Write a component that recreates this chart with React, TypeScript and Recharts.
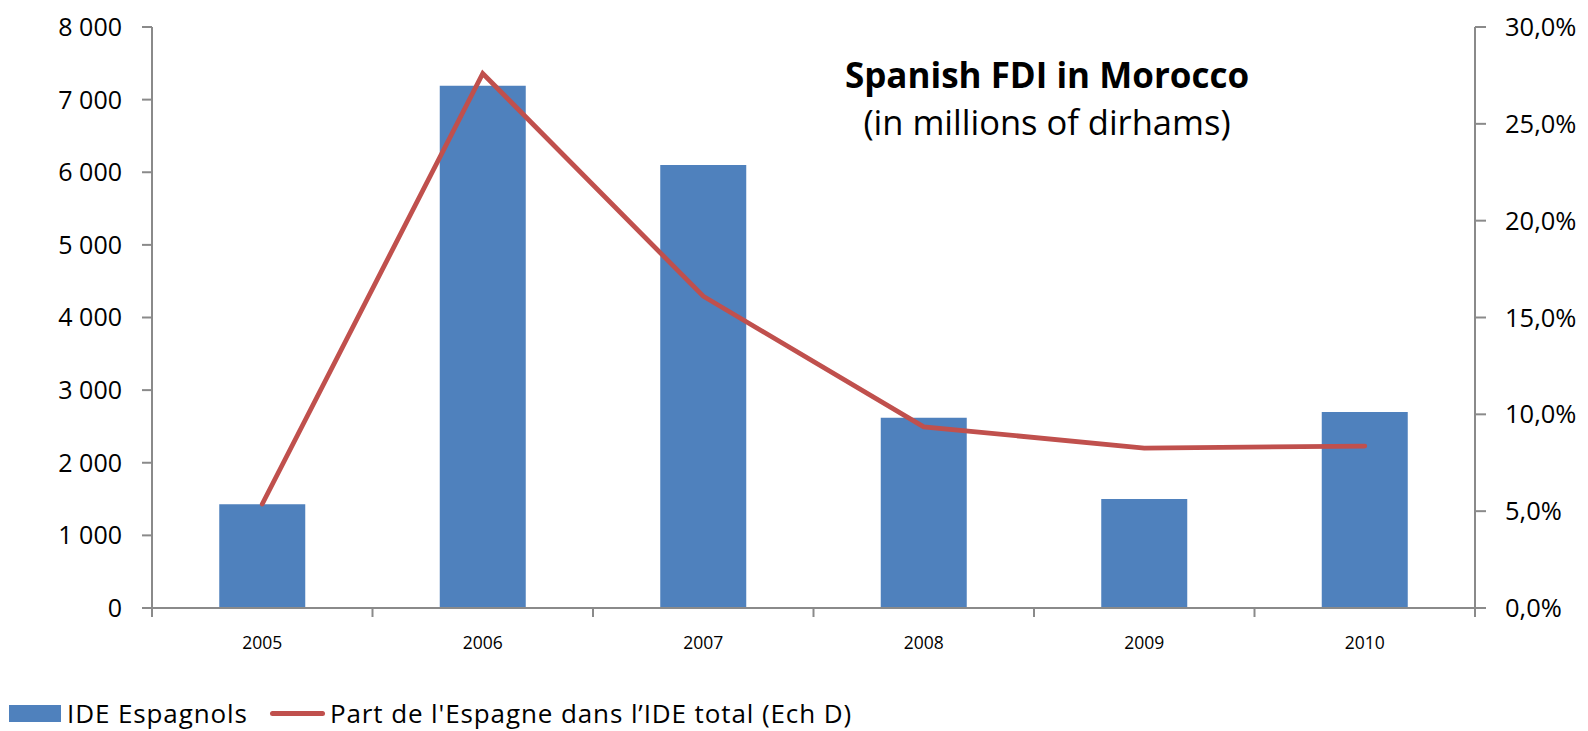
import { ComposedChart, Bar, Line, XAxis, YAxis } from "recharts";

// IDE espagnols au Maroc (millions de dirhams) et part dans l'IDE total
const years = ["2005", "2006", "2007", "2008", "2009", "2010"];
const fdiSpain = [1430, 7190, 6100, 2620, 1500, 2700];
const spainShare = [0.0537, 0.276, 0.161, 0.0935, 0.0826, 0.0836];
const leftTicks = [0, 1000, 2000, 3000, 4000, 5000, 6000, 7000, 8000];
const rightTicks = [0, 0.05, 0.1, 0.15, 0.2, 0.25, 0.3];

const data = years.map((year, i) => ({
  year,
  fdi: fdiSpain[i],
  share: spainShare[i],
}));

const W = 1588;
const H = 731;
const PLOT_LEFT = 152;
const PLOT_RIGHT = 1475;
const PLOT_TOP = 27;
const PLOT_BOTTOM = 608;
const BAND = (PLOT_RIGHT - PLOT_LEFT) / years.length;

const BLUE = "#4F81BD";
const RED = "#C0504D";
const AXIS = "#8a8a8a";
const FONT = "'Open Sans', sans-serif";

const fmtThousands = (v: number) =>
  v >= 1000 ? `${Math.floor(v / 1000)} ${String(v % 1000).padStart(3, "0")}` : String(v);
const fmtPct = (v: number) => `${(v * 100).toFixed(1).replace(".", ",")}%`;

function YearTick(props: any) {
  const { x, y, payload, index } = props;
  const half = BAND / 2;
  return (
    <g>
      <line x1={x - half} x2={x - half} y1={y} y2={y + 9} stroke={AXIS} strokeWidth={2} />
      {index === years.length - 1 && (
        <line x1={x + half} x2={x + half} y1={y} y2={y + 9} stroke={AXIS} strokeWidth={2} />
      )}
      <text x={x} y={y + 41} textAnchor="middle" fontSize={17.5} fontFamily={FONT} fill="#000">
        {payload.value}
      </text>
    </g>
  );
}

export default function App() {
  return (
    <div style={{ position: "absolute", left: 0, top: 0, width: W, height: H, background: "#fff", fontFamily: FONT, overflow: "hidden" }}>
      <ComposedChart
        width={W}
        height={H}
        data={data}
        margin={{ top: PLOT_TOP, right: 0, bottom: 0, left: 0 }}
        barCategoryGap="30.5%"
      >
        <XAxis
          dataKey="year"
          height={H - PLOT_BOTTOM}
          axisLine={{ stroke: AXIS, strokeWidth: 2 }}
          tickLine={false}
          tickSize={0}
          tickMargin={0}
          interval={0}
          tick={<YearTick />}
        />
        <YAxis
          yAxisId="left"
          width={PLOT_LEFT}
          domain={[0, 8000]}
          ticks={leftTicks}
          interval={0}
          tickFormatter={fmtThousands}
          axisLine={{ stroke: AXIS, strokeWidth: 2 }}
          tickLine={{ stroke: AXIS, strokeWidth: 2 }}
          tickSize={10}
          tickMargin={20}
          tick={{ fill: "#000", fontSize: 25, fontFamily: FONT }}
        />
        <YAxis
          yAxisId="right"
          orientation="right"
          width={W - PLOT_RIGHT}
          domain={[0, 0.3]}
          ticks={rightTicks}
          interval={0}
          tickFormatter={fmtPct}
          axisLine={{ stroke: AXIS, strokeWidth: 2 }}
          tickLine={{ stroke: AXIS, strokeWidth: 2 }}
          tickSize={11}
          tickMargin={19}
          tick={{ fill: "#000", fontSize: 25.5, fontFamily: FONT, textAnchor: "start" }}
        />
        <Bar yAxisId="left" dataKey="fdi" fill={BLUE} isAnimationActive={false} />
        <Line
          yAxisId="right"
          dataKey="share"
          stroke={RED}
          strokeWidth={4.8}
          dot={false}
          activeDot={false}
          strokeLinecap="round"
          isAnimationActive={false}
        />
      </ComposedChart>

      <div style={{ position: "absolute", left: 0, width: 2094, top: 53, textAlign: "center", fontSize: 35, fontWeight: 700, lineHeight: "44px", color: "#000" }}>
        Spanish FDI in Morocco
      </div>
      <div style={{ position: "absolute", left: 0, width: 2094, top: 100, textAlign: "center", fontSize: 34.5, lineHeight: "44px", color: "#000" }}>
        (in millions of dirhams)
      </div>

      <div style={{ position: "absolute", left: 9, top: 699, height: 28, lineHeight: "28px", display: "flex", alignItems: "center", fontSize: 26, letterSpacing: 0.9, color: "#000", whiteSpace: "nowrap" }}>
        <span style={{ display: "inline-block", width: 52, height: 17, background: BLUE }} />
        <span style={{ marginLeft: 6 }}>IDE Espagnols</span>
        <span style={{ display: "inline-block", width: 55, height: 5, borderRadius: 3, background: RED, marginLeft: 22 }} />
        <span style={{ marginLeft: 5 }}>Part de l'Espagne dans l’IDE total (Ech D)</span>
      </div>
    </div>
  );
}
